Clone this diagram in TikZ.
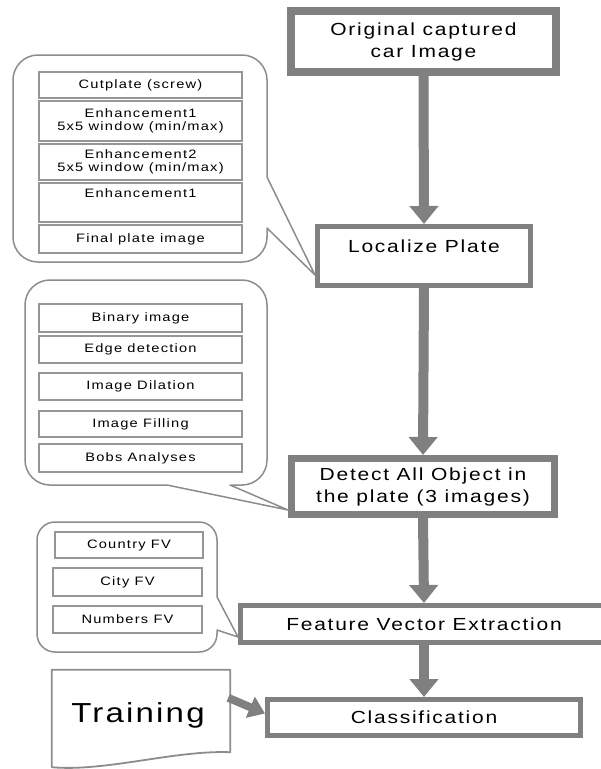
\documentclass[tikz,border=0pt]{standalone}
\usepackage{fontspec}
\setmainfont{Liberation Sans}
\newfontfamily\boxfont{Liberation Sans}[FakeStretch=1.2, LetterSpace=10]
\newfontfamily\docfont{Liberation Sans}[FakeStretch=1.2, LetterSpace=8]
\usetikzlibrary{arrows.meta,calc}
\definecolor{boxgray}{RGB}{128,128,128}
\definecolor{balloongray}{RGB}{140,140,140}
\definecolor{subgray}{RGB}{150,150,150}
\tikzset{
  stage/.style={draw=boxgray, line width=5pt, fill=white, inner sep=0pt, align=center,
    font=\boxfont\fontsize{17.5}{22}\selectfont},
  substep/.style={draw=subgray, line width=1.1pt, inner sep=0pt, align=center,
    minimum width=203pt, font=\boxfont\fontsize{12.2}{13}\selectfont},
  balloon/.style={draw=balloongray, line width=1.5pt, line join=round},
  flow/.style={draw=boxgray, line width=10pt, -{Triangle[width=28pt,length=18pt]}},
  sideflow/.style={draw=boxgray, line width=8pt, -{Triangle[width=22pt,length=16pt]}},
  sheet/.style={draw=balloongray, line width=1.8pt, line join=round},
}
\begin{document}
\begin{tikzpicture}[x=1pt,y=-1pt]
\clip (0,0) rectangle (601,769);

% main processing stages
\node[stage, line width=8pt, minimum width=265pt, minimum height=61pt] (orig) at (423.5,41.5)
  {Original captured\\car Image};
\node[stage, minimum width=213pt, minimum height=59pt, text height=13pt, text depth=21pt] (loc) at (424,256)
  {Localize Plate};
\node[stage, line width=7pt, minimum width=263pt, minimum height=56pt] (det) at (423,486.5)
  {Detect All Object in\\the plate (3 images)};
\node[stage, minimum width=367pt, minimum height=37pt] (fve) at (424,624)
  {Feature Vector Extraction};
\node[stage, minimum width=313pt, minimum height=36pt] (cls) at (424,717.5)
  {Classification};

% steps of the plate localisation
\node[substep, minimum height=26pt] (cut) at (140.5,85) {Cutplate (screw)};
\node[substep, minimum height=40pt] (enha) at (140.5,121) {Enhancement1\\5x5 window (min/max)};
\node[substep, minimum height=36pt] (enhb) at (140.5,162) {Enhancement2\\5x5 window (min/max)};
\node[substep, minimum height=39pt, text height=9pt, text depth=20pt] (enhc) at (140.5,202.5) {Enhancement1};
\node[substep, minimum height=28pt] (final) at (140.5,239) {Final plate image};

% steps of the object detection
\node[substep, minimum height=28pt] (bin) at (140.5,318) {Binary image};
\node[substep, minimum height=27pt] (edge) at (140.5,349.5) {Edge detection};
\node[substep, minimum height=27pt] (dil) at (140.5,386.5) {Image Dilation};
\node[substep, minimum height=26pt] (fill) at (140.5,424) {Image Filling};
\node[substep, minimum height=28pt] (bobs) at (140.5,458) {Bobs Analyses};

% feature vectors
\node[substep, minimum width=148pt, minimum height=26pt] (country) at (129,545) {Country FV};
\node[substep, minimum width=149pt, minimum height=28pt] (city) at (127.5,582) {City FV};
\node[substep, minimum width=149pt, minimum height=27pt] (numbers) at (127.5,619.5) {Numbers FV};

% pointer tips of the balloons
\coordinate (tipa) at ($(loc.south west)+(0,-13)$);
\coordinate (tipb) at ($(det.south west)+(0,-8)$);
\coordinate (tipc) at ($(fve.south west)+(0,-8)$);

% balloons
\draw[balloon] (38,55) -- (242,55) .. controls (255.8,55) and (267,66.2) .. (267,80)
  -- (267,177) -- (tipa) -- (267,228) -- (267,237)
  .. controls (267,250.8) and (255.8,262) .. (242,262) -- (38,262)
  .. controls (24.2,262) and (13,250.8) .. (13,237) -- (13,80)
  .. controls (13,66.2) and (24.2,55) .. (38,55) -- cycle;
\draw[balloon] (50,280) -- (242,280) .. controls (255.8,280) and (267,291.2) .. (267,305)
  -- (267,460) .. controls (267,473.8) and (255.8,485) .. (242,485)
  -- (230,485) -- (tipb) -- (167,485) -- (50,485)
  .. controls (36.2,485) and (25,473.8) .. (25,460) -- (25,305)
  .. controls (25,291.2) and (36.2,280) .. (50,280) -- cycle;
\draw[balloon] (55,522) -- (199,522) .. controls (208.9,522) and (217,530.1) .. (217,540)
  -- (217,597) -- (tipc) -- (217,630) -- (217,634)
  .. controls (217,643.9) and (208.9,652) .. (199,652) -- (55,652)
  .. controls (45.1,652) and (37,643.9) .. (37,634) -- (37,540)
  .. controls (37,530.1) and (45.1,522) .. (55,522) -- cycle;

% training document
\node[minimum width=178pt, minimum height=82pt, inner sep=0pt] (doc) at (141,711) {};
\draw[sheet] (doc.north west) -- (doc.north east) -- (doc.south east)
  .. controls (175,750) and (105,772) .. ($(doc.south west)+(0,15)$) -- cycle;
\node[font=\docfont\fontsize{27.5}{30}\selectfont, inner sep=0pt] (train) at ($(doc.center)+(-3,4)$) {Training};

% flow arrows
\draw[flow] (orig.south) -- (loc.north);
\draw[flow] (loc.south) -- (det.north);
\draw[flow] (det.south) -- (fve.north);
\draw[flow] (fve.south) -- (cls.north);
\draw[sideflow] ($(doc.north east)+(-2,28)$) -- ($(cls.west)+(0,-4)$);
\end{tikzpicture}
\end{document}
